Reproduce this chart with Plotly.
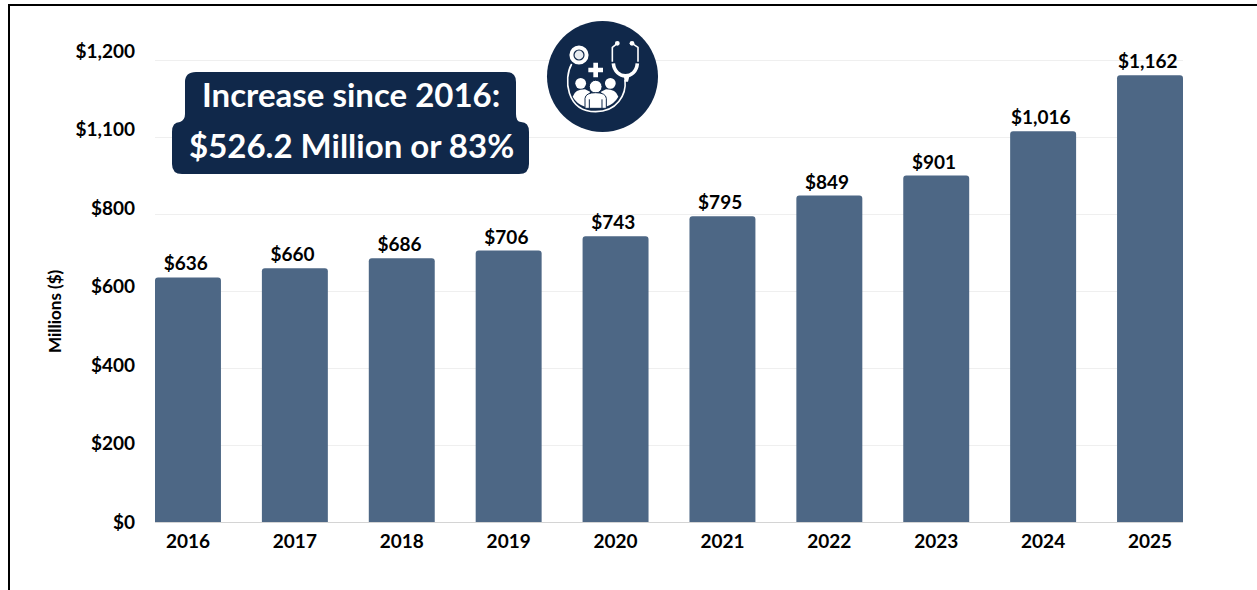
import plotly.graph_objects as go

# Annual funding, in millions of dollars
years = ["2016", "2017", "2018", "2019", "2020", "2021", "2022", "2023", "2024", "2025"]
funding = [636, 660, 686, 706, 743, 795, 849, 901, 1016, 1162]

# Axis ticks
tick_values = [0, 200, 400, 600, 800, 1000, 1200]
tick_labels = ["$0", "$200", "$400", "$600", "$800", "$1,100", "$1,200"]

callout_lines = ["Increase since 2016:", "$526.2 Million or 83%"]

NAVY = "#10284a"
BAR = "#4d6785"
FONT = "Lato"

# Page geometry of the plotting area
W, H = 1257, 590
LEFT, RIGHT, TOP, BASE = 155, 1183, 51, 522


def px(x):
    return (x - LEFT) / (RIGHT - LEFT)


def py(y):
    return (BASE - y) / (BASE - TOP)


def path(*cmds):
    """Build an SVG path from page-pixel commands, converted to paper units."""
    out = []
    for c in cmds:
        nums = c[1:]
        pts = [f"{px(nums[i]):.5f},{py(nums[i + 1]):.5f}" for i in range(0, len(nums), 2)]
        out.append(c[0] + " ".join(pts))
    return " ".join(out)


def filled(d, color):
    return dict(type="path", xref="paper", yref="paper", path=d, fillcolor=color,
                line=dict(width=0), layer="above")


def stroked(d, color, width):
    return dict(type="path", xref="paper", yref="paper", path=d, fillcolor="rgba(0,0,0,0)",
                line=dict(color=color, width=width), layer="above")


def disc(cx, cy, r, color, line=None, line_width=0):
    return dict(type="circle", xref="paper", yref="paper", x0=px(cx - r), x1=px(cx + r),
                y0=py(cy + r), y1=py(cy - r), fillcolor=color,
                line=dict(color=line or color, width=line_width), layer="above")


def iz(x, y):
    """Icon drawing grid to page pixels."""
    return 530 + x / 3, y / 3


def icon_path(*cmds):
    conv = []
    for c in cmds:
        vals = []
        for i in range(1, len(c), 2):
            vals += list(iz(c[i], c[i + 1]))
        conv.append((c[0], *vals))
    return path(*conv)


shapes = []

# Chart frame: left and top rules
shapes.append(stroked(path(("M", 9, 590), ("L", 9, 5), ("L", 1257, 5)), "#000000", 2))

# Callout backing: two stacked rounded boxes joined into one outline
shapes.append(filled(path(
    ("M", 196, 72), ("L", 506, 72), ("Q", 516, 72, 516, 82), ("L", 516, 114),
    ("Q", 516, 122, 521, 122), ("Q", 529, 122, 529, 132), ("L", 529, 164),
    ("Q", 529, 174, 519, 174), ("L", 182, 174), ("Q", 172, 174, 172, 164),
    ("L", 172, 132), ("Q", 172, 122, 180, 122), ("Q", 185, 120, 185, 114),
    ("L", 185, 82), ("Q", 185, 72, 196, 72), ("Z",)), NAVY))

# Care-team emblem
shapes.append(disc(602.5, 76.5, 55.5, NAVY))
shapes.append(stroked(icon_path(("M", 125, 192), ("C", 100, 235, 108, 335, 197, 335),
                                ("C", 260, 335, 290, 285, 285, 240)), "#ffffff", 1.6))
shapes.append(disc(*iz(147, 165), 9.6, "#ffffff"))
shapes.append(disc(*iz(147, 165), 5, "#e8ecf1", NAVY, 1.2))
shapes.append(filled(icon_path(("M", 190, 188), ("L", 204, 188), ("L", 204, 203), ("L", 219, 203),
                               ("L", 219, 217), ("L", 204, 217), ("L", 204, 232), ("L", 190, 232),
                               ("L", 190, 217), ("L", 175, 217), ("L", 175, 203), ("L", 190, 203),
                               ("Z",)), "#ffffff"))
shapes.append(stroked(icon_path(("M", 262, 130), ("L", 247, 142), ("L", 247, 185)), "#ffffff", 1.6))
shapes.append(stroked(icon_path(("M", 306, 130), ("L", 324, 142), ("L", 324, 185)), "#ffffff", 1.6))
shapes.append(stroked(icon_path(("M", 250, 190), ("C", 255, 240, 318, 240, 322, 190)), "#ffffff", 3.6))
shapes.append(filled(icon_path(("M", 281, 225), ("L", 299, 225), ("L", 294, 245), ("L", 284, 245),
                               ("Z",)), "#ffffff"))
shapes.append(disc(*iz(262, 130), 2.4, "#ffffff"))
shapes.append(disc(*iz(306, 130), 2.4, "#ffffff"))
for hx, hy in [(152, 250), (241, 250)]:
    shapes.append(disc(*iz(hx, hy), 5.4, "#ffffff"))
shapes.append(filled(icon_path(("M", 128, 290), ("Q", 135, 268, 165, 268), ("L", 180, 275),
                               ("L", 165, 320), ("Q", 140, 312, 128, 290), ("Z",)), "#ffffff"))
shapes.append(filled(icon_path(("M", 265, 290), ("Q", 258, 268, 228, 268), ("L", 213, 275),
                               ("L", 228, 320), ("Q", 253, 312, 265, 290), ("Z",)), "#ffffff"))
shapes.append(disc(*iz(197, 260), 6.4, "#ffffff", NAVY, 1))
shapes.append(dict(filled(icon_path(("M", 165, 325), ("L", 165, 295), ("Q", 167, 278, 197, 278),
                                    ("Q", 227, 278, 229, 295), ("L", 229, 325), ("Z",)), "#ffffff"),
                   line=dict(color=NAVY, width=1)))
shapes.append(stroked(icon_path(("M", 178, 298), ("L", 178, 325)), NAVY, 1))
shapes.append(stroked(icon_path(("M", 216, 298), ("L", 216, 325)), NAVY, 1))

callout_font = dict(family=FONT, size=33, color="#ffffff", weight="bold")
annotations = [
    dict(text=callout_lines[0], xref="paper", yref="paper", x=px(350.5), y=py(94), showarrow=False,
         xanchor="center", yanchor="middle", font=callout_font),
    dict(text=callout_lines[1], xref="paper", yref="paper", x=px(351.5), y=py(145), showarrow=False,
         xanchor="center", yanchor="middle", font=callout_font),
    # Value-axis title, centred lower than the axis midpoint
    dict(text="Millions ($)", xref="paper", yref="paper", x=px(54), y=py(311), showarrow=False,
         textangle=-90, xanchor="center", yanchor="middle",
         font=dict(family=FONT, size=17, color="#000000", weight="bold")),
]

tick_font = dict(family=FONT, size=19, color="#000000", weight="bold")

fig = go.Figure()
fig.add_trace(go.Bar(
    x=years, y=funding, marker=dict(color=BAR, cornerradius=3, line=dict(width=0)),
    texttemplate="$%{y:,}\u00a0", textposition="outside", cliponaxis=False,
    textfont=tick_font, hoverinfo="x+y", showlegend=False, width=0.617,
))
# Carrier for the labelled value axis, whose labels run on a slightly wider pitch than the gridlines
fig.add_trace(go.Scatter(x=years, y=[None] * len(years), yaxis="y2", showlegend=False, hoverinfo="skip"))

fig.update_layout(
    width=W, height=H, autosize=False,
    margin=dict(l=LEFT, r=W - RIGHT, t=TOP, b=H - BASE, pad=0),
    paper_bgcolor="#ffffff", plot_bgcolor="#ffffff",
    shapes=shapes, annotations=annotations,
    xaxis=dict(type="category", categoryorder="array", categoryarray=years, range=[-0.3085, 9.3085],
               showgrid=False, showline=True, linecolor="#d4d4d4", linewidth=1, ticks="",
               tickfont=tick_font, ticklabelstandoff=2),
    yaxis=dict(range=[0, 1225], tickmode="array", tickvals=tick_values, showticklabels=False,
               gridcolor="#efefef", gridwidth=1, zeroline=False, showline=False, ticks=""),
    yaxis2=dict(overlaying="y", side="left", range=[0, 1200], tickmode="array", tickvals=tick_values,
                ticktext=tick_labels, tickfont=tick_font, showgrid=False, zeroline=False, showline=False,
                ticks="", ticklabelstandoff=19),
)

fig.write_html("out.html", config=dict(displayModeBar=False))
